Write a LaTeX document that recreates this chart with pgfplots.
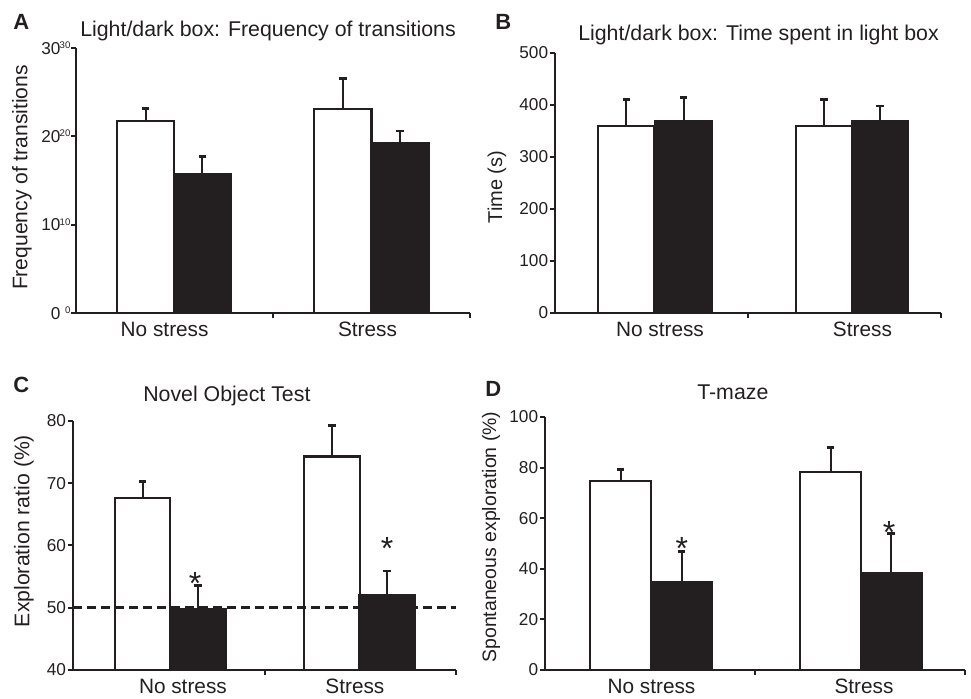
\documentclass[border=0pt]{standalone}
\usepackage{pgfplots}
\pgfplotsset{compat=1.18}
\usepackage{fontspec}
\setmainfont{Liberation Sans}
\definecolor{ink}{RGB}{35,31,32}

% big tick number with the small duplicate beside it (panel A)
\newcommand{\dbl}[1]{#1\makebox[7.5pt][r]{\raisebox{4.2pt}{\fontsize{7.2}{7.2}\selectfont #1}}}

\pgfplotsset{
  panel/.style={
    scale only axis,
    anchor=south west,
    xmin=0, xmax=2,
    axis lines=left,
    axis line style={-, line width=1.9pt, color=ink},
    xtick={1,2}, xticklabels={,},
    tick align=outside,
    major tick length=3.5pt,
    tick style={line width=1.5pt, color=ink},
    /pgf/number format/assume math mode=true,
    yticklabel style={font=\fontsize{12.9}{13}\selectfont, text=ink, inner sep=0pt, xshift=-1.5pt},
    extra x tick style={major tick length=0pt,
      tick label style={font=\fontsize{15.6}{16}\selectfont, text=ink, inner sep=0pt,
        text height=11.4pt, text depth=0pt, anchor=north, yshift=-6pt}},
    extra x tick labels={No stress,Stress},
  },
  wbar/.style={ybar, bar width=0.29, bar shift=0pt, fill=white, draw=ink, line width=1.6pt,
    error bars/.cd, y dir=plus, y explicit,
    error bar style={line width=1.5pt, color=ink},
    error mark options={rotate=90, line width=2.2pt, mark size=2.7pt, color=ink}},
  kbar/.style={ybar, bar width=0.29, bar shift=0pt, fill=ink, draw=ink, line width=1.6pt,
    error bars/.cd, y dir=plus, y explicit,
    error bar style={line width=1.5pt, color=ink},
    error mark options={rotate=90, line width=2.2pt, mark size=2.7pt, color=ink}},
  stars/.style={draw=none, mark=none, nodes near coords={*},
    every node near coord/.append style={anchor=center, inner sep=0pt,
      font=\fontsize{24}{24}\selectfont, text=ink, yshift=-0.22em}},
}

\begin{document}
\begin{tikzpicture}
\path[use as bounding box] (0,0) rectangle (728.25pt,524.25pt);

% A
\begin{axis}[panel, at={(57pt,289.5pt)}, width=295.5pt, height=198.75pt,
  ymin=0, ymax=30, ytick={0,10,20,30},
  yticklabels={\dbl{0},\dbl{10},\dbl{20},\dbl{30}},
  yticklabel style={xshift=1pt},
  extra x ticks={0.45,1.48}]
\addplot[wbar] coordinates {(0.353,21.7) +- (0,1.5) (1.355,23.1) +- (0,3.4)};
\addplot[kbar] coordinates {(0.642,15.7) +- (0,2.0) (1.645,19.25) +- (0,1.35)};
\end{axis}

% B
\begin{axis}[panel, at={(416.25pt,289.5pt)}, width=289.5pt, height=195pt,
  ymin=0, ymax=500, ytick={0,100,200,300,400,500},
  extra x ticks={0.544,1.593}]
\addplot[wbar] coordinates {(0.37,360) +- (0,50) (1.394,360) +- (0,50)};
\addplot[kbar] coordinates {(0.666,370) +- (0,45) (1.684,370) +- (0,28)};
\end{axis}

% C
\begin{axis}[panel, at={(54.75pt,21.75pt)}, width=287.25pt, height=186.75pt,
  ymin=40, ymax=80, ytick={40,50,60,70,80},
  extra x ticks={0.574,1.472}]
\addplot[wbar] coordinates {(0.363,67.6) +- (0,2.7) (1.352,74.3) +- (0,5.0)};
\addplot[kbar] coordinates {(0.653,49.8) +- (0,3.7) (1.64,52.0) +- (0,3.9)};
\addplot[ink, line width=1.9pt, dash pattern=on 6.75pt off 3.75pt] coordinates {(0,50) (2,50)};
\addplot[stars] coordinates {(0.637,54.4) (1.64,60.0)};
\end{axis}

% D
\begin{axis}[panel, at={(408.75pt,21.75pt)}, width=315pt, height=189.75pt,
  ymin=0, ymax=100, ytick={0,20,40,60,80,100},
  extra x ticks={0.507,1.519}]
\addplot[wbar] coordinates {(0.36,74.6) +- (0,4.7) (1.36,78.3) +- (0,9.6)};
\addplot[kbar] coordinates {(0.65,34.9) +- (0,11.8) (1.648,38.4) +- (0,15.6)};
\addplot[stars] coordinates {(0.652,49.3) (1.638,55.7)};
\end{axis}

% panel titles
\begin{scope}[every node/.style={anchor=base west, inner sep=0pt, text=ink, font=\fontsize{16}{16}\selectfont}]
\node at (60pt,496.5pt) {Light/dark box: Frequency of transitions};
\node at (433.5pt,493.5pt) {Light/dark box: Time spent in light box};
\node at (107.25pt,222.75pt) {Novel Object Test};
\node at (522.75pt,224.25pt) {T-maze};
\end{scope}

% panel letters
\begin{scope}[every node/.style={anchor=base west, inner sep=0pt, text=ink, font=\fontsize{16.5}{17}\selectfont\bfseries}]
\node at (9.75pt,501.75pt) {A};
\node at (371.25pt,501.75pt) {B};
\node at (9.75pt,229.5pt) {C};
\node at (363.75pt,226.5pt) {D};
\end{scope}

% y axis labels
\begin{scope}[every node/.style={rotate=90, anchor=center, inner sep=0pt, text=ink}]
\node[font=\fontsize{15.8}{16}\selectfont] at (16.5pt,391.1pt) {Frequency of transitions};
\node[font=\fontsize{15}{15}\selectfont] at (372.75pt,384pt) {Time (s)};
\node[font=\fontsize{15.9}{16}\selectfont] at (18pt,126pt) {Exploration ratio (\%)};
\node[font=\fontsize{14.6}{15}\selectfont] at (368.25pt,121.5pt) {Spontaneous exploration (\%)};
\end{scope}
\end{tikzpicture}
\end{document}
